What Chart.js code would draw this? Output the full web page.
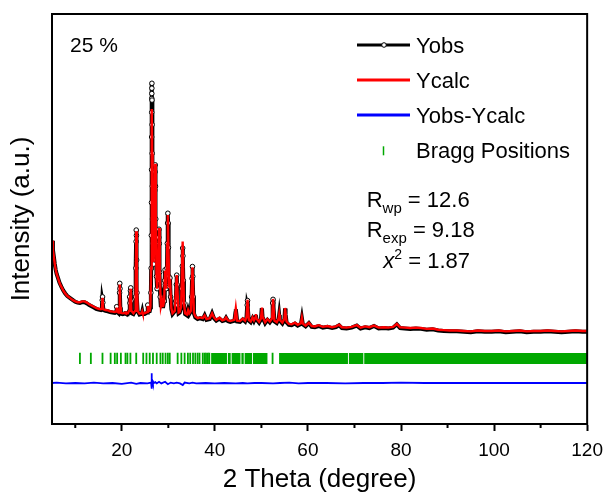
<!DOCTYPE html>
<html>
<head>
<meta charset="utf-8">
<script src="https://cdn.jsdelivr.net/npm/chart.js@4.4.1/dist/chart.umd.min.js"></script>
<style>
  html, body { margin:0; padding:0; background:#fff; }
  #wrap { position:relative; width:611px; height:493px; }
</style>
</head>
<body>
<div id="wrap"><canvas id="chart" width="611" height="493"></canvas></div>
<script>
// 2 theta (deg), intensity (a.u., 0-100 on the plot)
const obsPoints = [
  [5.0,44.7],[5.2,42.5],[5.4,40.8],[5.6,39.0],[5.8,37.6],[6.0,36.6],[6.3,35.6],[6.6,34.5],[7.0,33.5],[7.4,32.6],
  [7.8,31.9],[8.3,31.2],[8.9,30.7],[9.5,30.2],[10.0,29.8],[10.5,29.6],[11.0,29.5],[11.5,29.7],[12.0,29.7],[12.5,29.4],
  [13.0,29.0],[13.5,28.7],[14.0,28.4],[14.5,28.1],[15.0,27.9],[15.5,27.8],
  [15.70,28.0],[15.80,30.2],[15.86,31.0],[15.92,29.6],[16.05,27.8],
  [16.5,27.6],[17.0,27.5],[17.5,27.3],[18.0,27.2],[18.5,27.1],
  [18.80,27.4],[18.90,28.6],[19.0,27.3],[19.3,27.0],
  [19.45,28.0],[19.52,32.0],[19.56,34.3],[19.61,33.0],[19.68,28.5],[19.80,26.9],[20.2,26.8],
  [20.7,27.0],[20.8,27.5],[20.9,26.9],[21.3,26.8],
  [21.55,27.5],[21.68,31.0],[21.75,29.5],[21.86,32.5],[21.92,33.2],[21.98,30.0],[22.10,27.0],[22.5,26.8],
  [22.85,27.5],[22.95,31.0],[23.02,38.0],[23.07,44.5],[23.10,47.3],[23.14,46.0],[23.19,40.0],[23.26,32.0],[23.40,27.5],[23.8,26.7],
  [24.3,26.9],[24.4,27.4],[24.5,26.8],[24.9,26.8],
  [25.45,27.2],[25.58,29.0],[25.70,27.4],[26.0,27.5],
  [26.15,28.5],[26.25,32.0],[26.31,38.0],[26.35,46.0],[26.38,54.0],[26.40,62.0],[26.42,70.0],[26.43,76.0],[26.44,79.4],[26.45,80.6],
  [26.46,81.9],[26.47,83.1],[26.49,79.0],[26.51,73.0],[26.53,66.0],[26.56,58.0],[26.60,50.0],[26.66,44.0],[26.75,40.0],[26.85,39.0],
  [26.95,44.0],[27.03,50.0],[27.10,57.0],[27.15,61.5],[27.19,63.2],[27.24,58.0],[27.30,50.0],[27.37,42.0],[27.46,36.0],[27.58,33.0],
  [27.75,35.0],[27.86,40.0],[27.95,45.5],[28.00,47.5],[28.06,44.0],[28.14,37.0],[28.25,31.0],[28.40,28.5],
  [28.65,30.2],[28.85,28.3],
  [29.10,30.0],[29.22,35.0],[29.30,37.6],[29.40,34.0],[29.55,33.0],
  [29.70,38.0],[29.78,44.0],[29.85,49.0],[29.90,51.4],[29.95,49.0],[30.02,43.0],[30.10,36.0],[30.20,33.5],
  [30.35,35.6],[30.48,31.0],[30.65,28.0],[30.90,26.8],
  [31.40,27.5],[31.60,30.0],[31.72,34.0],[31.80,36.3],[31.88,34.0],[32.00,29.0],[32.20,27.0],[32.45,27.2],
  [32.75,28.5],[32.90,33.0],[33.00,38.5],[33.08,42.9],[33.14,41.0],[33.22,35.0],[33.35,29.5],[33.60,26.8],
  [34.0,26.5],[34.25,27.8],[34.5,26.8],
  [34.85,27.5],[35.00,31.0],[35.10,35.5],[35.18,38.4],[35.25,36.0],[35.35,31.0],[35.50,27.0],[35.80,26.0],
  [36.3,25.6],[36.8,25.8],[37.4,25.6],[37.8,26.5],[38.2,25.4],[38.9,25.6],[39.4,27.0],[39.8,25.8],
  [40.3,25.2],[41.0,25.7],[41.6,25.1],[42.1,25.3],[42.4,25.9],[42.8,25.1],[43.3,24.9],
  [44.2,25.2],[44.4,27.0],[44.5,28.0],[44.6,27.0],[44.8,25.0],[45.4,24.9],[46.0,25.5],[46.5,25.0],
  [46.8,26.0],[46.95,29.0],[47.02,30.1],[47.10,28.5],[47.3,25.2],[47.7,24.8],[48.1,25.8],[48.4,25.1],
  [48.7,25.8],[48.8,26.6],[48.95,25.5],[49.5,24.7],
  [49.9,25.5],[50.05,27.8],[50.12,28.2],[50.25,26.0],[50.8,24.6],[51.3,25.4],[51.8,24.8],
  [52.3,25.6],[52.42,29.5],[52.50,30.4],[52.60,28.5],[52.8,25.0],[53.3,24.6],
  [53.7,25.5],[53.82,26.6],[53.95,25.2],[54.5,24.5],
  [54.95,25.5],[55.08,28.2],[55.2,26.8],[55.4,24.8],
  [55.9,24.2],[56.5,24.1],[57.2,24.5],[57.8,24.0],[58.5,24.4],[58.7,25.8],[58.9,24.3],
  [59.5,23.8],[60.2,24.6],[60.8,23.7],[61.5,23.6],[62.3,23.9],[63.2,23.5],[64.2,23.7],[65.2,23.4],[66.0,23.6],[66.7,24.1],
  [67.3,23.4],[68.3,23.3],[69.4,23.5],[70.5,24.0],[71.3,23.3],[72.3,23.6],[73.2,23.4],[74.2,23.9],[75.2,23.3],[76.3,23.4],
  [77.3,23.3],[78.3,23.5],[79.1,24.3],[79.8,23.4],[80.8,23.3],[82.0,23.2],[83.2,23.3],[84.3,23.2],[85.5,23.0],[86.8,23.1],
  [88.0,22.8],[89.2,22.7],[90.5,22.6],[92.0,22.6],[93.5,22.5],[95.0,22.4],[96.5,22.6],[98.0,22.5],[99.5,22.5],[101.0,22.6],
  [102.5,22.4],[104.0,22.5],[105.5,22.6],[107.0,22.4],[108.5,22.5],[110.0,22.5],[111.5,22.6],[113.0,22.5],[114.5,22.4],[116.0,22.5],
  [117.5,22.6],[119.0,22.5],[120.0,22.5]
];

const calcPoints = [
  [5.0,44.7],[5.2,42.5],[5.4,40.8],[5.6,39.0],[5.8,37.6],[6.0,36.6],[6.3,35.6],[6.6,34.5],[7.0,33.5],[7.4,32.6],
  [7.8,31.9],[8.3,31.2],[8.9,30.7],[9.5,30.2],[10.0,29.9],[10.5,29.7],[11.0,29.7],[11.5,29.9],[12.0,29.9],[12.5,29.6],
  [13.0,29.2],[13.5,28.9],[14.0,28.6],[14.5,28.3],[15.0,28.1],[15.5,28.0],
  [15.72,28.2],[15.86,30.8],[16.0,28.0],[16.5,27.8],[17.0,27.7],[17.5,27.5],[18.0,27.4],[18.5,27.3],
  [18.8,27.5],[18.9,28.4],[19.0,27.4],[19.3,27.2],
  [19.45,28.0],[19.56,34.0],[19.68,28.6],[19.8,27.1],[20.2,27.0],
  [20.7,27.1],[20.8,27.5],[20.9,27.0],[21.3,27.0],
  [21.55,27.6],[21.68,31.0],[21.76,29.6],[21.92,33.0],[22.05,27.6],[22.5,27.0],
  [22.85,27.6],[22.98,34.0],[23.10,47.0],[23.22,36.0],[23.40,27.6],[23.8,26.9],
  [24.3,27.0],[24.4,27.4],[24.5,27.0],[24.9,27.0],
  [25.45,27.3],[25.58,28.8],[25.70,27.5],[26.0,27.6],
  [26.15,28.6],[26.30,38.0],[26.40,62.0],[26.46,76.8],[26.53,66.0],[26.62,48.0],[26.75,40.5],[26.85,39.5],
  [27.03,50.0],[27.19,63.5],[27.30,50.0],[27.46,36.0],[27.60,33.0],
  [27.86,40.0],[28.00,47.8],[28.14,37.0],[28.40,28.7],[28.65,30.0],[28.85,28.5],
  [29.10,30.0],[29.30,37.4],[29.55,33.0],
  [29.78,44.0],[29.90,51.0],[30.02,43.0],[30.20,33.5],
  [30.35,35.4],[30.65,28.2],[30.90,27.0],
  [31.40,27.6],[31.80,36.3],[32.20,27.2],[32.45,27.4],
  [32.75,28.6],[33.08,44.5],[33.35,29.6],[33.60,27.0],
  [34.0,26.7],[34.25,27.8],[34.5,27.0],
  [34.85,27.6],[35.18,38.2],[35.50,27.2],[35.80,26.2],
  [36.3,25.8],[36.8,26.0],[37.4,25.8],[37.8,26.5],[38.2,25.6],[38.9,25.8],[39.4,27.0],[39.8,26.0],
  [40.3,25.4],[41.0,25.9],[41.6,25.3],[42.1,25.5],[42.4,26.0],[42.8,25.3],[43.3,25.1],
  [44.2,25.4],[44.5,28.2],[44.8,25.2],[45.4,25.1],[46.0,25.7],[46.5,25.2],
  [46.8,26.1],[47.02,30.3],[47.3,25.4],[47.7,25.0],[48.1,26.0],[48.4,25.3],
  [48.7,26.0],[48.8,26.8],[48.95,25.7],[49.5,24.9],
  [49.9,25.7],[50.12,28.4],[50.25,26.2],[50.8,24.8],[51.3,25.6],[51.8,25.0],
  [52.3,25.8],[52.50,30.5],[52.8,25.2],[53.3,24.8],
  [53.7,25.7],[53.82,26.7],[53.95,25.4],[54.5,24.7],
  [54.95,25.7],[55.08,28.3],[55.4,25.0],
  [55.9,24.4],[56.5,24.3],[57.2,24.7],[57.8,24.2],[58.5,24.6],[58.7,25.9],[58.9,24.5],
  [59.5,24.0],[60.2,24.7],[60.8,23.9],[61.5,23.8],[62.3,24.1],[63.2,23.7],[64.2,23.9],[65.2,23.6],[66.0,23.8],[66.7,24.2],
  [67.3,23.6],[68.3,23.5],[69.4,23.7],[70.5,24.1],[71.3,23.5],[72.3,23.8],[73.2,23.6],[74.2,24.0],[75.2,23.5],[76.3,23.6],
  [77.3,23.5],[78.3,23.7],[79.1,24.4],[79.8,23.6],[80.8,23.5],[82.0,23.4],[83.2,23.5],[84.3,23.4],[85.5,23.2],[86.8,23.3],
  [88.0,23.0],[89.2,22.9],[90.5,22.8],[92.0,22.8],[93.5,22.7],[95.0,22.6],[96.5,22.8],[98.0,22.7],[99.5,22.7],[101.0,22.8],
  [102.5,22.6],[104.0,22.7],[105.5,22.8],[107.0,22.6],[108.5,22.7],[110.0,22.7],[111.5,22.8],[113.0,22.7],[114.5,22.6],[116.0,22.7],
  [117.5,22.8],[119.0,22.7],[120.0,22.7]
];

const diffPoints = [
  [5.0,10.0],[6.0,10.1],[8.0,9.9],[10.0,10.0],[12.0,9.9],[14.0,10.1],[16.0,9.9],[18.0,10.0],[20.0,9.8],[22.0,10.1],
  [23.1,9.8],[24.0,10.0],[25.5,9.9],[26.3,10.1],[26.40,12.4],[26.46,8.6],[26.55,10.6],[26.7,9.9],[27.2,10.2],[27.5,9.9],
  [28.0,10.3],[28.5,9.9],[29.3,10.3],[29.9,9.7],[30.5,10.1],[31.2,9.9],[31.8,10.1],[32.5,9.9],[33.1,9.5],[33.5,10.1],
  [34.5,9.9],[35.2,10.1],[36.0,9.9],[38.0,10.0],[40.0,9.9],[42.0,10.0],[44.5,9.9],[46.0,10.0],[47.0,9.9],[48.5,10.0],
  [50.0,10.0],[52.5,9.9],[54.0,10.0],[56.0,10.1],[58.0,9.9],[60.0,10.0],[64.0,10.0],[68.0,9.9],[72.0,10.0],[76.0,10.0],
  [80.0,10.1],[85.0,10.0],[90.0,10.0],[95.0,10.0],[100.0,10.0],[105.0,10.0],[110.0,10.0],[115.0,10.0],[120.0,10.0]
];

// single reflections, and ranges where the marks merge into a solid band
const braggTicks = [11.0,13.35,15.85,17.6,18.5,19.0,19.8,20.8,21.2,21.85,23.1,24.6,25.3,26.0,26.7,27.5,28.3,28.8,
  29.4,29.9,30.3,32.0,32.8,33.5,34.2,34.7,35.3,35.8,36.3,36.7,37.4,37.8,38.1,38.5,38.8,52.4];
const braggBands = [[39.2,42.6],[42.8,43.4],[43.6,45.5],[45.7,46.2],[46.4,48.0],[48.2,51.3],[53.8,68.6],[68.8,71.9],[72.1,120]];
const braggLevel = 16;

const majorTicks = [20,40,60,80,100,120];
const minorTicks = [10,30,50,70,90,110];

const sampleLabel = '25 %';
const legendItems = [
  { label:'Yobs', color:'#000000', kind:'obs' },
  { label:'Ycalc', color:'#FF0000', kind:'line' },
  { label:'Yobs-Ycalc', color:'#0000FF', kind:'line' },
  { label:'Bragg Positions', color:'#00A800', kind:'tick' }
];
const rwp = '12.6', rexp = '9.18', chi2 = '1.87';

const FONT = '"Liberation Sans", Arial, sans-serif';
const GREEN = '#00A800';

const bandData = [];
braggBands.forEach(([a,b]) => { bandData.push([a,braggLevel],[b,braggLevel],[b+0.05,null]); });

const framePlugin = {
  id:'frame',
  afterDraw(chart){
    const {ctx, chartArea:a, scales:{x}} = chart;
    ctx.save();
    ctx.strokeStyle = '#000'; ctx.lineWidth = 2;
    ctx.strokeRect(a.left, a.top, a.right-a.left, a.bottom-a.top);
    ctx.beginPath();
    minorTicks.forEach(v => { const p = x.getPixelForValue(v); ctx.moveTo(p, a.bottom); ctx.lineTo(p, a.bottom+4); });
    ctx.stroke();

    ctx.fillStyle = '#000'; ctx.textBaseline = 'alphabetic';
    ctx.font = '21px '+FONT;
    ctx.fillText(sampleLabel, 70, 52);

    // legend
    const lx0 = 357, lx1 = 410, tx = 416;
    legendItems.forEach((it,i) => {
      const base = 53.3 + i*35;
      const ly = base - 8.3;
      ctx.strokeStyle = it.color;
      if (it.kind === 'tick') {
        ctx.lineWidth = 1.5;
        ctx.beginPath(); ctx.moveTo(383.5, base-12); ctx.lineTo(383.5, base-3); ctx.stroke();
      } else {
        ctx.lineWidth = 2.8;
        ctx.beginPath(); ctx.moveTo(lx0, ly); ctx.lineTo(lx1, ly); ctx.stroke();
        if (it.kind === 'obs') {
          ctx.lineWidth = 1; ctx.fillStyle = '#fff';
          ctx.beginPath(); ctx.arc(384, ly, 2.3, 0, Math.PI*2); ctx.fill(); ctx.stroke();
        }
      }
      ctx.fillStyle = '#000';
      ctx.font = '22px '+FONT;
      ctx.fillText(it.label, tx, base);
    });

    // refinement factors
    const stat = (main, sub, rest, x, y) => {
      ctx.font = '22px '+FONT; ctx.fillText(main, x, y); x += ctx.measureText(main).width;
      ctx.font = '15px '+FONT; ctx.fillText(sub, x, y+6); x += ctx.measureText(sub).width;
      ctx.font = '22px '+FONT; ctx.fillText(rest, x, y);
    };
    stat('R', 'wp', ' = '+rwp, 366.7, 206.7);
    stat('R', 'exp', ' = '+rexp, 366.7, 237.3);
    let cx = 383.3;
    ctx.font = 'italic 22px '+FONT; ctx.fillText('x', cx, 268.3); cx += ctx.measureText('x').width;
    ctx.font = '14px '+FONT; ctx.fillText('2', cx, 258.5); cx += ctx.measureText('2').width;
    ctx.font = '22px '+FONT; ctx.fillText(' = '+chi2, cx, 268.3);
    ctx.restore();
  }
};

new Chart(document.getElementById('chart'), {
  type:'line',
  data:{
    datasets:[
      { label:'Ycalc', data:calcPoints, borderColor:'#FF0000', borderWidth:2.4, pointRadius:0, order:0 },
      { label:'Yobs', data:obsPoints, borderColor:'#000000', borderWidth:4,
        pointRadius: c => (c.raw && c.raw[0] > 15 && c.raw[1] > 28.5) ? 2.3 : 0,
        pointBackgroundColor:'#fff', pointBorderColor:'#000', pointBorderWidth:1, order:1 },
      { label:'Yobs-Ycalc', data:diffPoints, borderColor:'#0000FF', borderWidth:1.8, pointRadius:0, order:2 },
      { label:'Bragg Positions', data:braggTicks.map(v => [v, braggLevel]), showLine:false, pointStyle:'line',
        rotation:90, pointRadius:5.6, pointBorderWidth:1.8, pointBorderColor:GREEN, borderColor:GREEN, order:3 },
      { label:'Bragg bands', data:bandData, borderColor:GREEN, borderWidth:11, borderCapStyle:'butt',
        pointRadius:0, spanGaps:false, order:4 }
    ]
  },
  options:{
    responsive:false, animation:false, devicePixelRatio:1, events:[],
    layout:{ padding:{ top:14, right:21, left:0, bottom:0 } },
    plugins:{ legend:{ display:false }, tooltip:{ enabled:false } },
    elements:{ line:{ tension:0 } },
    scales:{
      x:{
        type:'linear', min:5, max:120,
        afterBuildTicks: s => { s.ticks = majorTicks.map(v => ({ value:v })); },
        ticks:{ color:'#000', font:{ family:FONT, size:19 }, maxRotation:0, padding:8 },
        grid:{ display:true, drawOnChartArea:false, tickLength:7, tickWidth:2, tickColor:'#000' },
        border:{ display:true, color:'#000', width:2 },
        title:{ display:true, text:'2 Theta (degree)', color:'#000', font:{ family:FONT, size:26, lineHeight:1 }, padding:{ top:0, bottom:0 } },
        afterFit: s => { s.height = 69; }
      },
      y:{
        type:'linear', min:0, max:100,
        ticks:{ display:false },
        grid:{ display:false },
        border:{ display:true, color:'#000', width:2 },
        title:{ display:true, text:'Intensity (a.u.)', color:'#000', font:{ family:FONT, size:26, lineHeight:1 }, padding:{ top:9, bottom:0 } },
        afterFit: s => { s.width = 52; }
      }
    }
  },
  plugins:[framePlugin]
});
</script>
</body>
</html>
